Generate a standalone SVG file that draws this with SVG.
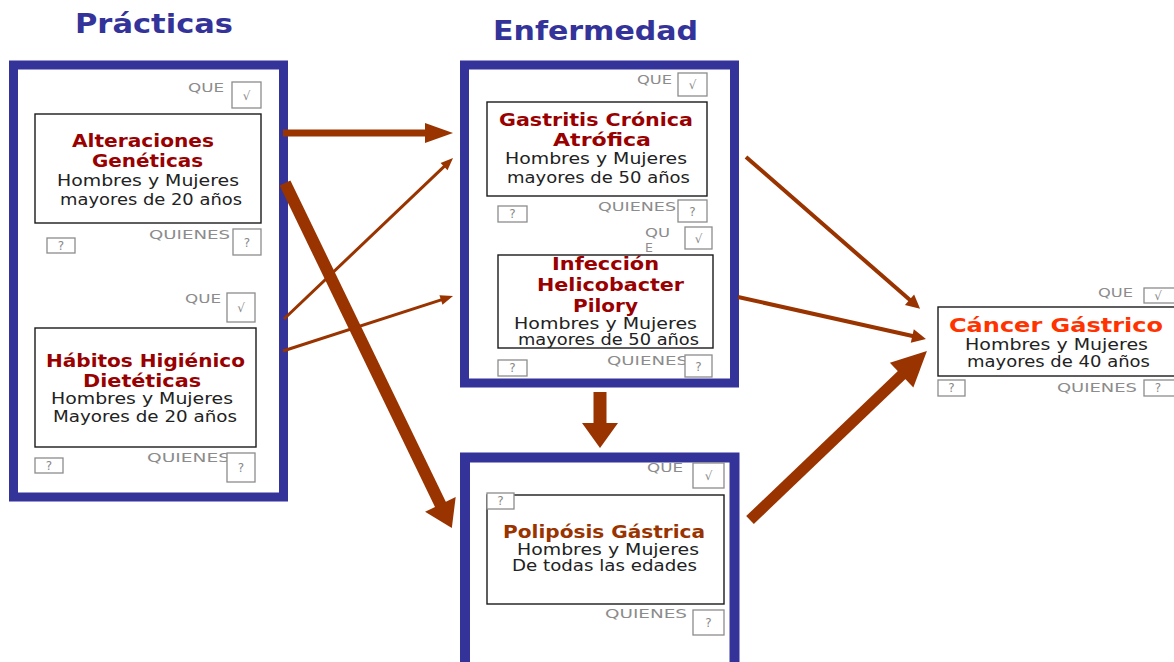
<svg xmlns="http://www.w3.org/2000/svg" width="1174" height="662" viewBox="0 0 1174 662">
<style>
.frame{fill:#fff;stroke:#333399;stroke-width:9}
.box{fill:#fff;stroke:#1a1a1a;stroke-width:1.4}
.sbox{fill:#fff;stroke:#8c8c8c;stroke-width:1.3}
.head{font-family:"DejaVu Sans",sans-serif;font-weight:bold;font-size:27px;fill:#333399}
.t{font-family:"DejaVu Sans",sans-serif;font-weight:bold;font-size:18px;fill:#990000}
.s{font-family:"DejaVu Sans",sans-serif;font-size:15px;fill:#222}
.lbl{font-family:"DejaVu Sans",sans-serif;font-size:12.5px;fill:#8c8c8c}
.mk{font-family:"DejaVu Sans",sans-serif;font-size:12px;fill:#888;text-anchor:middle}
.arr line{stroke:#993300}
.arr polygon{fill:#993300}
</style>
<rect width="1174" height="662" fill="#fff"/>

<text class="head" x="75" y="33" textLength="158" lengthAdjust="spacingAndGlyphs">Prácticas</text>
<text class="head" x="493" y="40" textLength="205" lengthAdjust="spacingAndGlyphs">Enfermedad</text>

<g id="frame-practicas"><rect class="frame" x="13.5" y="65" width="270" height="432"/></g>
<g id="frame-enfermedad"><rect class="frame" x="464.5" y="65" width="270" height="318"/></g>
<g id="frame-polipos"><rect class="frame" x="465" y="457.5" width="269.5" height="215" style="stroke-width:10"/></g>

<g id="alteraciones">
<rect class="box" x="35" y="114" width="226" height="109"/>
<text class="t" x="72" y="147" textLength="142" lengthAdjust="spacingAndGlyphs">Alteraciones</text>
<text class="t" x="92" y="167" textLength="111" lengthAdjust="spacingAndGlyphs">Genéticas</text>
<text class="s" x="57" y="186" textLength="182" lengthAdjust="spacingAndGlyphs">Hombres y Mujeres</text>
<text class="s" x="60" y="205" textLength="182" lengthAdjust="spacingAndGlyphs">mayores de 20 años</text>
<text class="lbl" x="188" y="92" textLength="36" lengthAdjust="spacingAndGlyphs">QUE</text>
<rect class="sbox" x="232" y="82" width="29" height="26"/><text class="mk" x="246.5" y="100">√</text>
<text class="lbl" x="149" y="239" textLength="81" lengthAdjust="spacingAndGlyphs">QUIENES</text>
<rect class="sbox" x="233" y="229" width="28" height="26"/><text class="mk" x="247" y="247">?</text>
<rect class="sbox" x="47" y="238" width="28" height="15"/><text class="mk" x="61" y="250">?</text>
</g>

<g id="habitos">
<rect class="box" x="35" y="328" width="221" height="119"/>
<text class="t" x="46" y="367" textLength="199" lengthAdjust="spacingAndGlyphs">Hábitos Higiénico</text>
<text class="t" x="83" y="387" textLength="118" lengthAdjust="spacingAndGlyphs">Dietéticas</text>
<text class="s" x="51" y="404" textLength="182" lengthAdjust="spacingAndGlyphs">Hombres y Mujeres</text>
<text class="s" x="53" y="422" textLength="184" lengthAdjust="spacingAndGlyphs">Mayores de 20 años</text>
<text class="lbl" x="185" y="303" textLength="36" lengthAdjust="spacingAndGlyphs">QUE</text>
<rect class="sbox" x="227" y="293" width="28" height="29"/><text class="mk" x="241" y="312">√</text>
<text class="lbl" x="147" y="462" textLength="83" lengthAdjust="spacingAndGlyphs">QUIENES</text>
<rect class="sbox" x="227" y="453" width="28" height="29"/><text class="mk" x="241" y="472">?</text>
<rect class="sbox" x="35" y="458" width="28" height="15"/><text class="mk" x="49" y="470">?</text>
</g>

<g id="gastritis">
<rect class="box" x="487" y="102" width="220" height="94"/>
<text class="t" x="499" y="126" textLength="194" lengthAdjust="spacingAndGlyphs">Gastritis Crónica</text>
<text class="t" x="553" y="146" textLength="98" lengthAdjust="spacingAndGlyphs">Atrófica</text>
<text class="s" x="505" y="164" textLength="182" lengthAdjust="spacingAndGlyphs">Hombres y Mujeres</text>
<text class="s" x="507" y="183" textLength="183" lengthAdjust="spacingAndGlyphs">mayores de 50 años</text>
<text class="lbl" x="637" y="84" textLength="35" lengthAdjust="spacingAndGlyphs">QUE</text>
<rect class="sbox" x="678" y="73" width="29" height="23"/><text class="mk" x="692.5" y="89">√</text>
<text class="lbl" x="598" y="211" textLength="78" lengthAdjust="spacingAndGlyphs">QUIENES</text>
<rect class="sbox" x="678" y="200" width="29" height="22"/><text class="mk" x="692.5" y="216">?</text>
<rect class="sbox" x="498" y="206" width="29" height="16"/><text class="mk" x="512.5" y="218">?</text>
</g>

<g id="helicobacter">
<text class="lbl" x="645" y="237" textLength="25" lengthAdjust="spacingAndGlyphs">QU</text>
<text class="lbl" x="645" y="252">E</text>
<rect class="sbox" x="685" y="227" width="27" height="22"/><text class="mk" x="698.5" y="243">√</text>
<rect class="box" x="498" y="255" width="215" height="93"/>
<text class="t" x="552" y="270" textLength="107" lengthAdjust="spacingAndGlyphs">Infección</text>
<text class="t" x="537" y="291" textLength="147" lengthAdjust="spacingAndGlyphs">Helicobacter</text>
<text class="t" x="573" y="312" textLength="65" lengthAdjust="spacingAndGlyphs">Pilory</text>
<text class="s" x="514" y="329" textLength="183" lengthAdjust="spacingAndGlyphs">Hombres y Mujeres</text>
<text class="s" x="518" y="345" textLength="181" lengthAdjust="spacingAndGlyphs">mayores de 50 años</text>
<text class="lbl" x="607" y="365" textLength="81" lengthAdjust="spacingAndGlyphs">QUIENES</text>
<rect class="sbox" x="685" y="355" width="27" height="22"/><text class="mk" x="698.5" y="371">?</text>
<rect class="sbox" x="498" y="360" width="29" height="16"/><text class="mk" x="512.5" y="372">?</text>
</g>

<g id="poliposis">
<rect class="box" x="487" y="495" width="237" height="109"/>
<rect class="sbox" x="487" y="493" width="27" height="16"/><text class="mk" x="500.5" y="505">?</text>
<text class="t" x="503" y="538" textLength="202" lengthAdjust="spacingAndGlyphs" style="fill:#993300">Polipósis Gástrica</text>
<text class="s" x="517" y="555" textLength="182" lengthAdjust="spacingAndGlyphs">Hombres y Mujeres</text>
<text class="s" x="512" y="571" textLength="185" lengthAdjust="spacingAndGlyphs">De todas las edades</text>
<text class="lbl" x="647" y="472" textLength="36" lengthAdjust="spacingAndGlyphs">QUE</text>
<rect class="sbox" x="693" y="463" width="31" height="25"/><text class="mk" x="708.5" y="480">√</text>
<text class="lbl" x="605" y="618" textLength="82" lengthAdjust="spacingAndGlyphs">QUIENES</text>
<rect class="sbox" x="693" y="610" width="31" height="25"/><text class="mk" x="708.5" y="627">?</text>
</g>

<g id="cancer">
<rect class="box" x="938" y="307" width="250" height="69"/>
<text class="t" x="949" y="332" textLength="214" lengthAdjust="spacingAndGlyphs" style="fill:#ff3300;font-size:19px">Cáncer Gástrico</text>
<text class="s" x="965" y="350" textLength="183" lengthAdjust="spacingAndGlyphs">Hombres y Mujeres</text>
<text class="s" x="967" y="367" textLength="183" lengthAdjust="spacingAndGlyphs">mayores de 40 años</text>
<text class="lbl" x="1098" y="297" textLength="35" lengthAdjust="spacingAndGlyphs">QUE</text>
<rect class="sbox" x="1144" y="288" width="40" height="15"/><text class="mk" x="1158" y="300">√</text>
<text class="lbl" x="1057" y="392" textLength="80" lengthAdjust="spacingAndGlyphs">QUIENES</text>
<rect class="sbox" x="1144" y="380" width="40" height="16"/><text class="mk" x="1158" y="392">?</text>
<rect class="sbox" x="938" y="380" width="27" height="16"/><text class="mk" x="951.5" y="392">?</text>
</g>

<g id="connectors" class="arr">
<g transform="translate(283,133)"><line x1="0" y1="0" x2="143" y2="0" stroke-width="7"/><polygon points="170,0 142,-10 142,10"/></g>
<g transform="translate(284,319) rotate(-43.6)"><line x1="0" y1="0" x2="222" y2="0" stroke-width="3"/><polygon points="233.4,0 221,-5 221,5"/></g>
<g transform="translate(283,351) rotate(-17.9)"><line x1="0" y1="0" x2="167" y2="0" stroke-width="3"/><polygon points="178.7,0 166,-5 166,5"/></g>
<g transform="translate(285,183) rotate(64.2)"><line x1="0" y1="0" x2="359" y2="0" stroke-width="12"/><polygon points="383.3,0 357,-17 357,17"/></g>
<g transform="translate(600,392) rotate(90)"><line x1="0" y1="0" x2="32" y2="0" stroke-width="13"/><polygon points="56,0 31,-18 31,18"/></g>
<g transform="translate(746,157) rotate(41.1)"><line x1="0" y1="0" x2="218" y2="0" stroke-width="4"/><polygon points="231,0 217,-7 217,7"/></g>
<g transform="translate(738,297) rotate(12.6)"><line x1="0" y1="0" x2="180" y2="0" stroke-width="4"/><polygon points="192.6,0 178.6,-7 178.6,7"/></g>
<g transform="translate(750,520) rotate(-43.7)"><line x1="0" y1="0" x2="212" y2="0" stroke-width="11"/><polygon points="244.7,0 209.7,-17 209.7,17"/></g>
</g>
</svg>
